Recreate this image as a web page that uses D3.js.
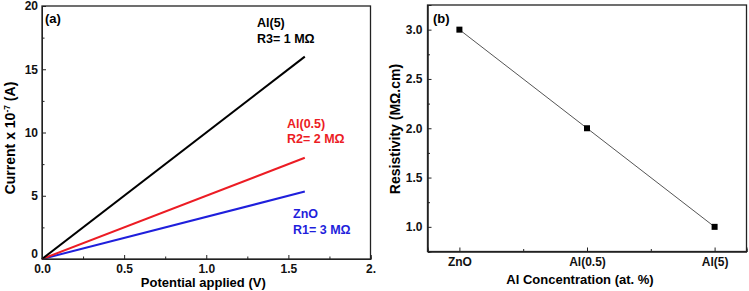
<!DOCTYPE html>
<html>
<head>
<meta charset="utf-8">
<script src="https://cdn.jsdelivr.net/npm/d3@7"></script>
<style>
    body { margin: 0; background: #fff; }
    svg { display: block; font-family: 'Liberation Sans', Arial, sans-serif; font-weight: bold; }
</style>
</head>
<body>
<svg class="svg"></svg>
<script>
// panel (a): I-V lines
const voltage = [0, 1.6];
const currentAl5 = [0, 16];
const currentAl05 = [0, 8];
const currentZnO = [0, 5.33];
const xTicksA = [0, 0.5, 1, 1.5, 2];
const xTickLabelsA = ['0.0', '0.5', '1.0', '1.5', '2.'];
const yTicksA = [0, 5, 10, 15, 20];

// panel (b): resistivity
const samples = ['ZnO', 'Al(0.5)', 'Al(5)'];
const resistivity = [3.0, 2.0, 1.0];
const yTicksB = [1.0, 1.5, 2.0, 2.5, 3.0];

function drawChart () {
    const width = 749;
    const height = 291;

    const svg = d3.select('.svg')
        .attr('width', width)
        .attr('height', height);

    /* PANEL A */
    const a = { left: 42, right: 370.5, top: 6, bottom: 259 };
    const xA = d3.scaleLinear().domain([0, 2]).range([a.left, a.right]);
    const yA = d3.scaleLinear().domain([0, 20]).range([a.bottom, a.top]);

    const gA = svg.append('g');

    gA.append('g')
        .attr('transform', `translate(0, ${a.bottom})`)
        .call(d3.axisBottom(xA).tickValues(xTicksA).tickSize(-4).tickPadding(5)
            .tickFormat((d, i) => xTickLabelsA[i]));
    gA.append('g')
        .attr('transform', `translate(0, ${a.bottom})`)
        .call(d3.axisBottom(xA).tickValues(xTicksA.slice(0, -1).map(d => d + 0.25)).tickSize(-2.5).tickFormat(''));
    const yAxisA = gA.append('g')
        .attr('transform', `translate(${a.left}, 0)`)
        .call(d3.axisLeft(yA).tickValues(yTicksA).tickSize(-4).tickPadding(4));
    // lift the "0" so it clears the "0.0" below it
    yAxisA.selectAll('.tick text').filter(d => d === 0).attr('dy', '-0.12em');
    gA.append('g')
        .attr('transform', `translate(${a.left}, 0)`)
        .call(d3.axisLeft(yA).tickValues(yTicksA.slice(0, -1).map(d => d + 2.5)).tickSize(-2.5).tickFormat(''));

    const line = d3.line()
        .x((d, i) => xA(voltage[i]))
        .y(d => yA(d));

    [[currentZnO, '#1f1fdc'], [currentAl05, '#ec1c24'], [currentAl5, '#000']].forEach(([s, c]) => {
        gA.append('path')
            .attr('d', line(s))
            .attr('fill', 'none')
            .attr('stroke', c)
            .attr('stroke-width', 2);
    });

    gA.append('rect')
        .attr('x', a.left).attr('y', a.top)
        .attr('width', a.right - a.left).attr('height', a.bottom - a.top)
        .attr('fill', 'none').attr('stroke', '#222').attr('stroke-width', 1.3);

    gA.append('text').attr('x', 45).attr('y', 23).style('font-size', '13px').text('(a)');

    const notes = [
        { t: 'Al(5)', x: 257, y: 26.5, c: '#000' },
        { t: 'R3= 1 MΩ', x: 257, y: 42.5, c: '#000' },
        { t: 'Al(0.5)', x: 287, y: 128, c: '#ec1c24' },
        { t: 'R2= 2 MΩ', x: 287, y: 143, c: '#ec1c24' },
        { t: 'ZnO', x: 293, y: 218, c: '#1f1fdc' },
        { t: 'R1= 3 MΩ', x: 293, y: 234, c: '#1f1fdc' }
    ];
    gA.selectAll('.note')
        .data(notes).enter()
        .append('text')
        .attr('class', 'note')
        .attr('x', d => d.x).attr('y', d => d.y)
        .attr('fill', d => d.c)
        .style('font-size', '12.5px')
        .text(d => d.t);

    gA.append('text')
        .attr('x', (a.left + a.right) / 2 - 3).attr('y', 287)
        .attr('text-anchor', 'middle')
        .style('font-size', '13px')
        .text('Potential applied (V)');

    const yTitleA = gA.append('text')
        .attr('transform', 'translate(15, 138) rotate(-90)')
        .attr('text-anchor', 'middle')
        .style('font-size', '14px');
    yTitleA.append('tspan').text('Current x 10');
    yTitleA.append('tspan').attr('dy', -5).style('font-size', '8.5px').text('-7');
    yTitleA.append('tspan').attr('dy', 5).text(' (A)');

    /* PANEL B */
    const b = { left: 427.5, right: 746.5, top: 5, bottom: 251.5 };
    const xB = d3.scaleLinear().domain([0.75, 3.25]).range([b.left, b.right]);
    const yB = d3.scaleLinear().domain([0.75, 3.25]).range([b.bottom, b.top]);
    const idx = samples.map((d, i) => i + 1);

    const gB = svg.append('g');

    gB.append('g')
        .attr('transform', `translate(0, ${b.bottom})`)
        .call(d3.axisBottom(xB).tickValues(idx).tickSize(-4).tickPadding(6)
            .tickFormat((d, i) => samples[i]));
    gB.append('g')
        .attr('transform', `translate(0, ${b.bottom})`)
        .call(d3.axisBottom(xB).tickValues([1.5, 2.5]).tickSize(-2.5).tickFormat(''));
    gB.append('g')
        .attr('transform', `translate(${b.left}, 0)`)
        .call(d3.axisLeft(yB).tickValues(yTicksB).tickSize(-4).tickPadding(5).tickFormat(d3.format('.1f')));
    gB.append('g')
        .attr('transform', `translate(${b.left}, 0)`)
        .call(d3.axisLeft(yB).tickValues(yTicksB.map(d => d + 0.25).concat([0.75])).tickSize(-2.5).tickFormat(''));

    gB.append('path')
        .attr('d', d3.line().x((d, i) => xB(idx[i])).y(d => yB(d))(resistivity))
        .attr('fill', 'none')
        .attr('stroke', '#555')
        .attr('stroke-width', 1);

    gB.selectAll('.pt')
        .data(resistivity).enter()
        .append('rect')
        .attr('class', 'pt')
        .attr('x', (d, i) => xB(idx[i]) - 3)
        .attr('y', d => yB(d) - 3)
        .attr('width', 6).attr('height', 6)
        .attr('fill', '#000');

    gB.append('rect')
        .attr('x', b.left).attr('y', b.top)
        .attr('width', b.right - b.left).attr('height', b.bottom - b.top)
        .attr('fill', 'none').attr('stroke', '#222').attr('stroke-width', 1.3);

    gB.append('text').attr('x', 433).attr('y', 23).style('font-size', '13px').text('(b)');

    gB.append('text')
        .attr('x', (b.left + b.right) / 2 - 7).attr('y', 284)
        .attr('text-anchor', 'middle')
        .style('font-size', '13px')
        .text('Al Concentration (at. %)');

    gB.append('text')
        .attr('transform', 'translate(400, 129) rotate(-90)')
        .attr('text-anchor', 'middle')
        .style('font-size', '14px')
        .text('Resistivity (MΩ.cm)');

    svg.selectAll('.tick text').style('font-size', '12px').attr('fill', '#111');
    svg.selectAll('.domain').attr('stroke', '#222');
    svg.selectAll('.tick line').attr('stroke', '#222');
}

document.addEventListener('DOMContentLoaded', drawChart);
</script>
</body>
</html>
